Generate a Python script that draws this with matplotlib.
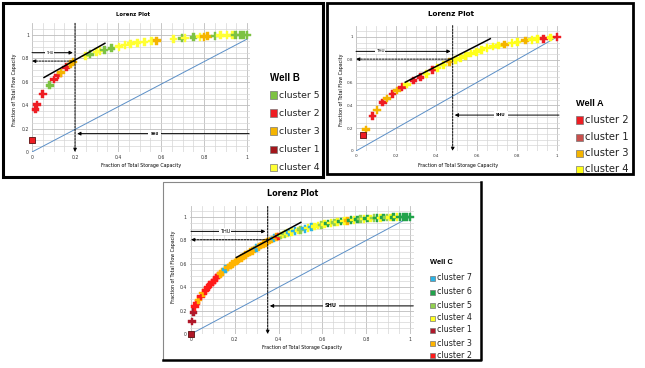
import matplotlib
matplotlib.use("Agg")
import matplotlib.pyplot as plt
from matplotlib.patches import Rectangle
from matplotlib.lines import Line2D

W, H = 645, 368

# ---------------- data ----------------
# Well B
b_x = [0.016, 0.023, 0.05, 0.082, 0.103, 0.121, 0.134, 0.16, 0.18, 0.19,
       0.249, 0.269, 0.30, 0.316, 0.336, 0.37, 0.404, 0.432, 0.459, 0.49,
       0.523, 0.557, 0.58, 0.658, 0.697, 0.712, 0.751, 0.782, 0.80, 0.817,
       0.852, 0.876, 0.907, 0.933, 0.946, 0.97, 0.985, 1.0]
b_y = [0.363, 0.406, 0.497, 0.571, 0.62, 0.654, 0.677, 0.723, 0.751, 0.769,
       0.82, 0.834, 0.854, 0.863, 0.871, 0.886, 0.9, 0.914, 0.926, 0.934,
       0.94, 0.949, 0.951, 0.966, 0.971, 0.974, 0.98, 0.986, 0.986, 0.989,
       0.991, 0.997, 0.997, 1.0, 1.0, 1.0, 1.0, 1.0]
b_cl = [2, 2, 2, 5, 2, 2, 3, 2, 3, 3,
        4, 5, 4, 4, 5, 5, 4, 4, 4, 4,
        4, 4, 3, 4, 5, 4, 5, 4, 3, 3,
        5, 4, 4, 4, 5, 5, 5, 5]
b_sq = (0.0, 0.1, 2)
b_legend = [5, 2, 3, 1, 4]
b_cut_x, b_cut_y = 0.2, 0.777
b_thu_y, b_shu_y = 0.849, 0.157
b_tan_x = [0.056, 0.339]
b_tan_y = [0.637, 0.929]
b_diag_y_end = 0.965

# Well A
a_x = [0.05, 0.083, 0.104, 0.133, 0.154, 0.182, 0.204, 0.23, 0.254, 0.287,
       0.32, 0.35, 0.38, 0.406, 0.436, 0.466, 0.494, 0.519, 0.546, 0.572,
       0.599, 0.625, 0.652, 0.682, 0.71, 0.74, 0.776, 0.804, 0.842, 0.876,
       0.904, 0.934, 0.967, 1.0]
a_y = [0.19, 0.309, 0.359, 0.424, 0.462, 0.5, 0.529, 0.559, 0.582, 0.618,
       0.647, 0.676, 0.709, 0.729, 0.756, 0.779, 0.8, 0.815, 0.835, 0.856,
       0.871, 0.888, 0.903, 0.918, 0.926, 0.935, 0.947, 0.956, 0.968, 0.976,
       0.985, 0.985, 0.997, 1.0]
a_cl = [3, 2, 3, 2, 3, 2, 3, 2, 4, 2,
        2, 4, 2, 4, 4, 3, 4, 4, 4, 4,
        4, 4, 4, 4, 4, 3, 4, 4, 3, 4,
        4, 2, 4, 2]
a_sq = (0.033, 0.138, 2)
a_legend = [2, 1, 3, 4]
a_cut_x, a_cut_y = 0.481, 0.806
a_thu_y, a_shu_y = 0.874, 0.315
a_tan_x = [0.245, 0.668]
a_tan_y = [0.603, 0.985]
a_diag_y_end = 1.0

# Well C
c_x = [0.005, 0.012, 0.018, 0.025, 0.035, 0.045, 0.056, 0.066, 0.079, 0.087,
       0.097, 0.107, 0.117, 0.125, 0.135, 0.145, 0.158, 0.17, 0.18, 0.19,
       0.20, 0.21, 0.22, 0.23, 0.24, 0.25, 0.26, 0.27, 0.28, 0.29,
       0.30, 0.31, 0.32, 0.33, 0.34, 0.35, 0.36, 0.37, 0.38, 0.39,
       0.40, 0.41, 0.42, 0.43, 0.44, 0.45, 0.46, 0.475, 0.49, 0.50,
       0.52, 0.535, 0.55, 0.565, 0.58, 0.595, 0.61, 0.625, 0.64, 0.655,
       0.67, 0.685, 0.70, 0.715, 0.73, 0.745, 0.76, 0.775, 0.79, 0.805,
       0.82, 0.835, 0.85, 0.865, 0.88, 0.895, 0.91, 0.925, 0.94, 0.955,
       0.97, 0.985, 1.0]
c_y = [0.106, 0.186, 0.233, 0.26, 0.29, 0.32, 0.35, 0.37, 0.40, 0.42,
       0.44, 0.46, 0.48, 0.50, 0.515, 0.53, 0.553, 0.57, 0.585, 0.60,
       0.612, 0.625, 0.637, 0.65, 0.662, 0.675, 0.687, 0.699, 0.711, 0.723,
       0.734, 0.745, 0.756, 0.767, 0.778, 0.789, 0.799, 0.809, 0.818, 0.827,
       0.835, 0.842, 0.849, 0.855, 0.861, 0.867, 0.872, 0.879, 0.886, 0.891,
       0.90, 0.907, 0.914, 0.92, 0.927, 0.932, 0.938, 0.943, 0.948, 0.952,
       0.957, 0.961, 0.965, 0.968, 0.972, 0.975, 0.978, 0.981, 0.984, 0.986,
       0.988, 0.99, 0.992, 0.993, 0.995, 0.996, 0.997, 0.998, 0.999, 1.0,
       1.0, 1.0, 1.0]
c_cl = [1, 1, 2, 2, 3, 2, 3, 2, 2, 2,
        2, 2, 2, 2, 3, 3, 7, 3, 3, 3,
        3, 3, 3, 3, 3, 3, 3, 3, 3, 3,
        7, 3, 3, 3, 3, 3, 3, 3, 7, 3,
        2, 5, 4, 5, 4, 7, 4, 7, 4, 5,
        7, 4, 7, 4, 4, 5, 4, 6, 4, 5,
        4, 6, 4, 3, 6, 4, 6, 5, 4, 6,
        4, 5, 6, 4, 6, 5, 4, 6, 4, 6,
        6, 6, 6]
c_sq = (0.0, 0.0, 1)
c_legend = [7, 6, 5, 4, 1, 3, 2]
c_cut_x, c_cut_y = 0.35, 0.806
c_thu_y, c_shu_y = 0.877, 0.24
c_tan_x = [0.207, 0.5015]
c_tan_y = [0.654, 0.954]
c_diag_y_end = 1.0

tick_vals = [0, 0.2, 0.4, 0.6, 0.8, 1]
tick_labels = ["0", "0.2", "0.4", "0.6", "0.8", "1"]

colors_b = {5: "#7dc243", 2: "#ee1d23", 3: "#f4b400", 1: "#a3161c", 4: "#ffff33"}
colors_a = {2: "#ee1d23", 1: "#c9504d", 3: "#f4b400", 4: "#ffff1a"}
colors_c = {7: "#2cb4e6", 6: "#22a34b", 5: "#92d050", 4: "#ffff22",
            1: "#b0182a", 3: "#ffb400", 2: "#ff1a1a"}

FONT = "DejaVu Sans"

fig = plt.figure(figsize=(W / 100, H / 100), dpi=100)
fig.patch.set_facecolor("white")


def fx(px):
    return px / W


def fy(py):
    return 1 - py / H


def border(x0, y0, x1, y1, lw=2.0, color="black"):
    fig.add_artist(Rectangle((fx(x0), fy(y1)), fx(x1) - fx(x0), fy(y0) - fy(y1),
                             transform=fig.transFigure, fill=False,
                             lw=lw, ec=color, zorder=10))


def panel(geom, xlim, ylim, xs, ys, cls, colors, sq, cut_x, cut_y, thu_y, shu_y,
          tan_x, tan_y, diag_end, thu_tx, shu_tx, ms, tick_fs, tick_pad, thu_fs):
    x0, sx, y0, sy = geom
    left = x0 + xlim[0] * sx
    right = x0 + xlim[1] * sx
    bottom = y0 - ylim[0] * sy
    top = y0 - ylim[1] * sy
    ax = fig.add_axes([fx(left), fy(bottom), (right - left) / W, (bottom - top) / H])
    ax.set_xlim(*xlim)
    ax.set_ylim(*ylim)
    ax.set_xticks(tick_vals)
    ax.set_xticklabels(tick_labels)
    ax.set_yticks(tick_vals)
    ax.set_yticklabels(tick_labels)
    ax.set_xticks([i * 0.05 for i in range(21)], minor=True)
    ax.set_yticks([i * 0.05 for i in range(22)], minor=True)
    ax.grid(which="major", color="#bdbdbd", lw=0.6)
    ax.grid(which="minor", color="#d6d6d6", lw=0.5)
    ax.tick_params(which="both", length=0, labelsize=tick_fs, pad=tick_pad,
                   colors="#333333")
    for s in ax.spines.values():
        s.set_visible(False)
    ax.set_axisbelow(True)
    ax.plot([0, 1], [0, diag_end], color="#5b8fc7", lw=0.7, zorder=2)
    ax.scatter(xs, ys, c=[colors[k] for k in cls], marker="P", s=ms,
               linewidths=0.3, edgecolors=[colors[k] for k in cls], zorder=3,
               clip_on=False)
    ax.scatter([sq[0]], [sq[1]], c=[colors[sq[2]]], marker="s", s=ms * 0.6,
               edgecolors="#5a1010", linewidths=0.6, zorder=4, clip_on=False)
    ax.plot(tan_x, tan_y, color="black", lw=1.1, zorder=5)
    ap = dict(arrowstyle="-|>", color="black", lw=0.7, mutation_scale=5,
              shrinkA=0, shrinkB=0)
    apd = dict(ap, linestyle=(0, (2, 1.2)))
    ax.annotate("", xy=(cut_x, 0), xytext=(cut_x, ylim[1]), arrowprops=apd,
                annotation_clip=False, zorder=6)
    ax.annotate("", xy=(0, cut_y), xytext=(cut_x, cut_y), arrowprops=apd,
                annotation_clip=False, zorder=6)
    ax.annotate("", xy=(cut_x - 0.01, thu_y), xytext=(0, thu_y), arrowprops=ap,
                annotation_clip=False, zorder=6)
    ax.text(thu_tx, thu_y, "THU", fontsize=thu_fs, ha="center", va="center",
            family=FONT, zorder=7,
            bbox=dict(fc="white", ec="none", pad=0.6))
    ax.annotate("", xy=(cut_x + 0.01, shu_y), xytext=(xlim[1] - 0.005, shu_y),
                arrowprops=ap, annotation_clip=False, zorder=6)
    ax.text(shu_tx, shu_y, "SHU", fontsize=thu_fs, ha="center", va="center",
            family=FONT, fontweight="bold", zorder=7,
            bbox=dict(fc="white", ec="none", pad=1.5))
    return ax


def legend(title, x_sq, x_txt, y_title, ys, order, colors, fs_title, fs, sq_px):
    fig.text(fx(x_sq - sq_px / 2), fy(y_title), title, fontsize=fs_title,
             fontweight="bold", va="center", ha="left", family="Liberation Sans")
    for k, yy in zip(order, ys):
        fig.add_artist(Rectangle((fx(x_sq - sq_px / 2), fy(yy + sq_px / 2)),
                                 sq_px / W, sq_px / H, transform=fig.transFigure,
                                 fc=colors[k], ec="#777777", lw=0.5))
        fig.text(fx(x_txt), fy(yy), "cluster %d" % k, fontsize=fs, va="center",
                 ha="left", family=FONT, color="#222222")


# ---------------- Well B ----------------
panel((32, 215, 152, 117), (0, 1.015), (0, 1.1), b_x, b_y, b_cl, colors_b, b_sq,
      b_cut_x, b_cut_y, b_thu_y, b_shu_y, b_tan_x, b_tan_y, b_diag_y_end,
      0.08, 0.57, 32, 3.3, 2.2, 2.5)
fig.text(fx(133), fy(14), "Lorenz Plot", fontsize=3.8, fontweight="bold",
         ha="center", va="center", family=FONT)
fig.text(fx(141), fy(166), "Fraction of Total Storage Capacity", fontsize=3.4,
         ha="center", va="center", family=FONT)
fig.text(fx(15), fy(90), "Fraction of Total Flow Capacity", fontsize=3.4,
         ha="center", va="center", rotation=90, family=FONT)
legend("Well B", 273, 279, 78, [95, 113, 131, 149, 167], b_legend, colors_b,
       7.0, 6.7, 7)
border(3, 3, 323, 177, lw=2.2)

# ---------------- Well A ----------------
panel((356, 201, 151, 114), (0, 1.015), (0, 1.1), a_x, a_y, a_cl, colors_a, a_sq,
      a_cut_x, a_cut_y, a_thu_y, a_shu_y, a_tan_x, a_tan_y, a_diag_y_end,
      0.12, 0.72, 30, 3.0, 2.2, 3.0)
fig.text(fx(451), fy(14), "Lorenz Plot", fontsize=5.2, fontweight="bold",
         ha="center", va="center", family=FONT)
fig.text(fx(458), fy(165), "Fraction of Total Storage Capacity", fontsize=3.4,
         ha="center", va="center", family=FONT)
fig.text(fx(341), fy(90), "Fraction of Total Flow Capacity", fontsize=3.4,
         ha="center", va="center", rotation=90, family=FONT)
legend("Well A", 579, 585, 104, [120, 137, 153, 169], a_legend, colors_a,
       6.6, 7.2, 7)
border(327, 3, 633, 174, lw=2.0)

# ---------------- Well C ----------------
panel((191, 219, 334, 117), (-0.005, 1.02), (0, 1.09), c_x, c_y, c_cl, colors_c,
      c_sq, c_cut_x, c_cut_y, c_thu_y, c_shu_y, c_tan_x, c_tan_y, c_diag_y_end,
      0.157, 0.638, 30, 3.3, 2.2, 3.6)
fig.text(fx(293), fy(194), "Lorenz Plot", fontsize=5.8, ha="center",
         va="center", family=FONT, fontweight="bold")
fig.text(fx(302), fy(348), "Fraction of Total Storage Capacity", fontsize=3.4,
         ha="center", va="center", family=FONT)
fig.text(fx(173), fy(267), "Fraction of Total Flow Capacity", fontsize=3.4,
         ha="center", va="center", rotation=90, family=FONT)
legend("Well C", 432, 437, 263, [278, 292, 305, 318, 330, 343, 355], c_legend,
       colors_c, 5.4, 5.8, 5)
fig.add_artist(Line2D([fx(163), fx(163), fx(481)], [fy(360), fy(182), fy(182)],
                      transform=fig.transFigure, color="#888888", lw=0.8))
fig.add_artist(Line2D([fx(163), fx(481), fx(481)], [fy(360), fy(360), fy(182)],
                      transform=fig.transFigure, color="black", lw=1.8))

fig.savefig("out.png", dpi=100, facecolor="white")
